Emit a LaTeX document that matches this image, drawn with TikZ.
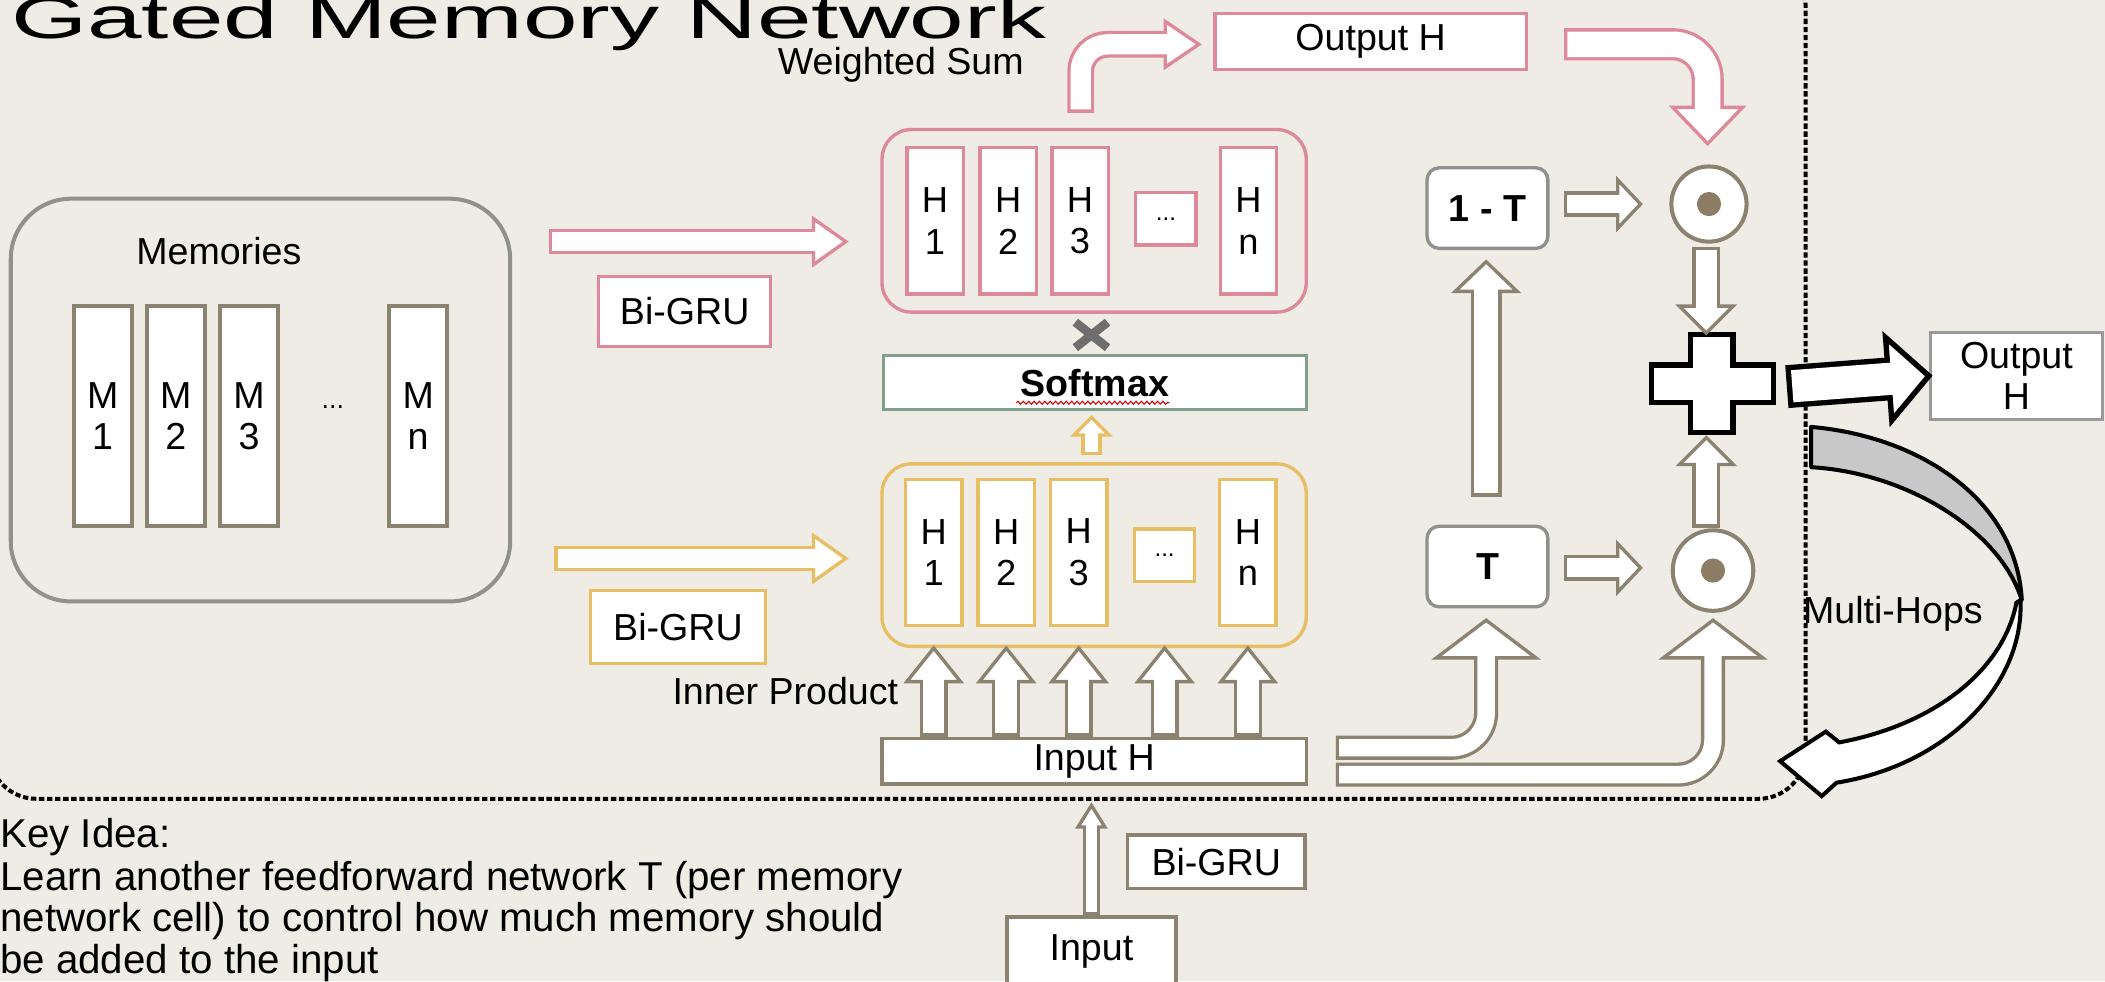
\documentclass[tikz,border=0pt]{standalone}
\usepackage{fontspec}
\setmainfont{Liberation Sans}
\newfontfamily\titlefont[FakeStretch=1.66]{Liberation Sans}
\usetikzlibrary{calc,decorations.pathmorphing}

\definecolor{bgc}{RGB}{238,236,228}
\definecolor{pinkc}{RGB}{222,137,154}
\definecolor{yelc}{RGB}{232,190,100}
\definecolor{brnc}{RGB}{140,130,112}
\definecolor{grnc}{RGB}{128,160,140}
\definecolor{gryc}{RGB}{145,145,140}
\definecolor{dotc}{RGB}{140,125,100}
\definecolor{bandc}{RGB}{200,200,200}
\definecolor{crossc}{RGB}{110,110,110}

% outline width of the block arrows
\newcommand\alw{2.5pt}

% straight block arrow: colour, shaft width, head half width, head length, base, tip
\newcommand\straightarrow[6]{%
  \coordinate (ba-s) at (#5);
  \coordinate (ba-t) at (#6);
  \coordinate (ba-b) at ($(ba-t)!#4pt!(ba-s)$);
  \filldraw[fill=white,draw=#1,line width=\alw]
    ($(ba-b)!#3pt!90:(ba-t)$) -- (ba-t) -- ($(ba-b)!#3pt!-90:(ba-t)$) -- cycle;
  \draw[draw=#1,line width={#2pt+2*\alw}] (ba-s) -- (ba-b);
  \draw[white,line width=#2pt] ($(ba-s)!\alw!(ba-t)$) -- ($(ba-b)!-\alw!(ba-s)$);
}

% bent block arrow: colour, shaft width, head half width, head length, base, corner, tip, radius
\newcommand\bentarrow[8]{%
  \coordinate (ba-s) at (#5);
  \coordinate (ba-c) at (#6);
  \coordinate (ba-t) at (#7);
  \coordinate (ba-b) at ($(ba-t)!#4pt!(ba-c)$);
  \filldraw[fill=white,draw=#1,line width=\alw]
    ($(ba-b)!#3pt!90:(ba-t)$) -- (ba-t) -- ($(ba-b)!#3pt!-90:(ba-t)$) -- cycle;
  \draw[draw=#1,line width={#2pt+2*\alw},rounded corners=#8pt] (ba-s) -- (ba-c) -- (ba-b);
  \draw[white,line width=#2pt,rounded corners=#8pt]
    ($(ba-s)!\alw!(ba-c)$) -- (ba-c) -- ($(ba-b)!-\alw!(ba-c)$);
}

\tikzset{
  txt/.style={inner sep=0pt,font=\fontsize{28}{32}\selectfont},
  box/.style={draw=#1,fill=white,line width=2.5pt,inner sep=0pt,
    font=\fontsize{28}{32}\selectfont},
  bar/.style={draw=#1,fill=white,line width=2.5pt,inner sep=0pt,align=center,
    minimum width=42pt,minimum height=109pt,font=\fontsize{27}{31}\selectfont},
  membar/.style={bar=brnc,line width=3pt,minimum width=43pt,minimum height=164pt,
    font=\fontsize{28}{31}\selectfont},
  dotbox/.style={draw=#1,fill=white,line width=2.5pt,inner sep=0pt,
    minimum width=45pt,minimum height=39pt,font=\fontsize{18}{18}\selectfont},
  holder/.style={draw=#1,line width=2.5pt,rounded corners=22pt,
    minimum width=316pt,minimum height=136pt},
  gate/.style={draw=gryc,fill=white,line width=2.5pt,rounded corners=9pt,
    minimum width=90pt,minimum height=60pt,font=\fontsize{28}{32}\selectfont\bfseries},
  dotcirc/.style={circle,draw=brnc,fill=white,line width=3pt,inner sep=0pt},
  frame/.style={black,line width=3pt,dash pattern=on 4pt off 2pt,rounded corners=35pt},
  keytxt/.style={inner sep=0pt,anchor=base west,font=\fontsize{30}{32}\selectfont},
}

\begin{document}
\begin{tikzpicture}[x=1pt,y=-1pt]
\useasboundingbox (0,0) rectangle (1568,731);
\fill[bgc] (0,0) rectangle (1568,731);

% dashed cell border
\draw[frame] (-8,-30) rectangle (1345,595);

% title
\node[anchor=base west,inner sep=0pt,font=\titlefont\fontsize{44}{46}\selectfont]
  (title) at (8,28.5) {Gated Memory Network};

% memories
\node[draw=gryc,line width=3pt,rounded corners=45pt,minimum width=372pt,
  minimum height=300pt] (mem) at (194,298) {};
\node[txt] (memt) at (163,187) {Memories};
\node[membar] (m1) at (76.5,310) {M\\1};
\node[membar] (m2) at (131,310) {M\\2};
\node[membar] (m3) at (185.5,310) {M\\3};
\node[inner sep=0pt,font=\fontsize{20}{20}\selectfont] (mdots) at (248,303) {...};
\node[membar] (mn) at (311.5,310) {M\\n};

% upper (pink) encoding
\node[holder=pinkc] (hc) at (815,164.5) {};
\node[bar=pinkc] (hb1) at (696.5,164.5) {H\\1};
\node[bar=pinkc] (hb2) at (751,164.5) {H\\2};
\node[bar=pinkc] (hb3) at (804.5,164.5) {H\\3};
\node[dotbox=pinkc] (hdots) at (868.5,163) {...};
\node[bar=pinkc] (hbn) at (930,164.5) {H\\n};
\node[box=pinkc,minimum width=128pt,minimum height=52pt] (pgru) at (510,232) {Bi-GRU};

% softmax
\node[box=grnc,minimum width=315pt,minimum height=40pt,font=\fontsize{28}{32}\selectfont\bfseries]
  (sm) at (815.5,285) {Softmax};
\draw[red!85!black,line width=0.8pt,decorate,
  decoration={snake,amplitude=1.1pt,segment length=4pt}] (757,300) -- (871,300);
\draw[crossc,line width=6.5pt] (801,240) -- (825,259) (801,259) -- (825,240);

% lower (yellow) encoding
\node[holder=yelc] (yc) at (815,413.5) {};
\node[bar=yelc] (yb1) at (695.5,411.5) {H\\1};
\node[bar=yelc] (yb2) at (749.5,411.5) {H\\2};
\node[bar=yelc] (yb3) at (803.5,411.5) {H\\3};
\node[dotbox=yelc] (ydots) at (867.5,413.5) {...};
\node[bar=yelc] (ybn) at (929.5,411.5) {H\\n};
\node[box=yelc,minimum width=130pt,minimum height=54pt] (ygru) at (505,467) {Bi-GRU};

% input side
\node[box=brnc,minimum width=316pt,minimum height=34pt] (inH) at (815,567) {Input H};
\node[box=brnc,minimum width=126pt,minimum height=52pt] (inp) at (813,709) {Input};
\node[box=brnc,minimum width=132pt,minimum height=40pt] (bgru) at (906,642) {Bi-GRU};

% labels
\node[txt] (wsum) at (671,48) {Weighted Sum};
\node[txt] (inner) at (585,515) {Inner Product};
\node[box=pinkc,minimum width=232pt,minimum height=42pt] (outT) at (1021,31) {Output H};

% gates
\node[gate] (omt) at (1108,155) {1 - T};
\node[gate] (tg) at (1108,422) {T};
\node[dotcirc,minimum size=56pt] (c1) at (1273,152) {};
\node[dotcirc,minimum size=60pt] (c2) at (1276,425) {};
\fill[dotc] (c1.center) circle (9);
\fill[dotc] (c2.center) circle (9);

% sum
\coordinate (pl) at (1275,286);
\begin{scope}[shift={(pl)}]
\draw[black,fill=white,line width=4pt,line join=miter]
  (-16,-37) -- (16,-37) -- (16,-14) -- (46,-14) -- (46,14) -- (16,14) -- (16,36)
  -- (-16,36) -- (-16,14) -- (-45,14) -- (-45,-14) -- (-16,-14) -- cycle;
\end{scope}
\node[draw=gray!80,fill=white,line width=2.5pt,minimum width=128pt,minimum height=65pt,
  align=center,inner sep=0pt,font=\fontsize{28}{30}\selectfont] (outR) at (1502,280) {Output\\H};

% arrows
\coordinate (pinkin) at (409,180);
\coordinate (yelin) at (413,416);
\straightarrow{pinkc}{14}{17}{24}{pinkin}{630,180}
\straightarrow{yelc}{14}{17}{24}{yelin}{630,416}
\bentarrow{pinkc}{15}{17}{25}{805,84}{805,33}{893,33}{20}
\bentarrow{pinkc}{19}{26}{27}{1165,33}{1272,33}{1272,107}{26}
\straightarrow{yelc}{10}{13}{13}{813,339}{813,311}
\foreach \b in {yb1,yb2,yb3,ydots,ybn}
  {\straightarrow{brnc}{16}{20}{25}{\b |- inH.north}{\b |- yc.south}}
\straightarrow{brnc}{8}{10}{16}{inp.north}{813,600}
\bentarrow{brnc}{13}{37}{28}{995,557}{1107,557}{1107,462}{26}
\bentarrow{brnc}{13}{37}{28}{995,577}{1276,577}{1276,462}{26}
\straightarrow{brnc}{18}{23}{22}{1107,370}{1107,195}
\straightarrow{brnc}{14}{18}{17}{1165,152}{1222,152}
\straightarrow{brnc}{14}{18}{17}{1165,423}{1222,423}
\straightarrow{brnc}{16}{20}{20}{1271,184}{1271,248}
\straightarrow{brnc}{16}{20}{20}{1271,393}{1271,326}
\renewcommand\alw{4pt}
\straightarrow{black}{24}{31}{30}{1331,288}{outR.west}

% multi-hop loop
\draw[black,fill=bandc,line width=3pt,line join=round]
  (1349,318) .. controls (1430,325) and (1502,372) .. (1506,447)
  .. controls (1490,395) and (1420,352) .. (1349,348) -- cycle;
\draw[black,fill=white,line width=3pt,line join=miter]
  (1505,447) .. controls (1508,510) and (1450,570) .. (1368,583)
  -- (1357,593) -- (1326,567) -- (1360,545) -- (1370,553)
  .. controls (1440,540) and (1492,500) .. (1502,449) -- cycle;
\node[txt] (hops) at (1410,457) {Multi-Hops};

% key idea
\node[keytxt] (k1) at (0,631) {Key Idea:};
\node[keytxt] (k2) at (0,663) {Learn another feedforward network T (per memory};
\node[keytxt] (k3) at (0,694) {network cell) to control how much memory should};
\node[keytxt] (k4) at (0,725) {be added to the input};
\end{tikzpicture}
\end{document}
